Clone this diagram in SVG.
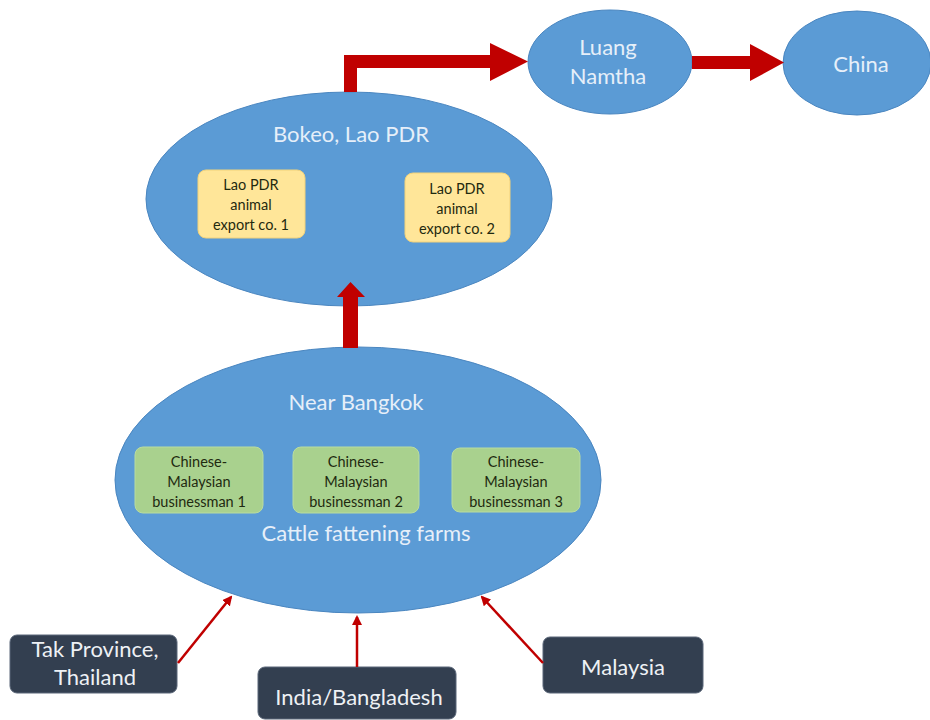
<svg xmlns="http://www.w3.org/2000/svg" width="930" height="720" viewBox="0 0 930 720">
<defs>
<style>
.ell{fill:#5b9bd5;stroke:#4a86c0;stroke-width:1}
.lt{font-family:Lato,"Open Sans","Liberation Sans",sans-serif;fill:#e6eff9;text-anchor:middle;font-size:22px}
.yb{fill:#ffe699;stroke:#f2d27a;stroke-width:1}
.gb{fill:#a9d18e;stroke:#b9dca0;stroke-width:1}
.sm{font-family:Lato,"Open Sans","Liberation Sans",sans-serif;font-size:14.5px;fill:#1f2a10;text-anchor:middle}
.db{fill:#333f50;stroke:#5a6678;stroke-width:1}
.dt{font-family:Lato,"Open Sans","Liberation Sans",sans-serif;font-size:22px;fill:#eef1f5;text-anchor:middle}
.thin{stroke:#c00000;stroke-width:2.5;fill:none}
.thick{fill:#c00000}
</style>
<marker id="ah" viewBox="0 0 10 10" refX="8" refY="5" markerWidth="4" markerHeight="4" orient="auto" markerUnits="strokeWidth">
<path d="M0,0 L10,5 L0,10 z" fill="#c00000"/>
</marker>
</defs>
<rect width="930" height="720" fill="#ffffff"/>

<g id="luang-namtha">
<ellipse class="ell" cx="610" cy="62" rx="82" ry="52"/>
<text class="lt" x="608" y="55">Luang</text>
<text class="lt" x="608" y="84">Namtha</text>
</g>
<g id="china">
<ellipse class="ell" cx="857" cy="63" rx="74" ry="52"/>
<text class="lt" x="861" y="72">China</text>
</g>
<g id="bokeo">
<ellipse class="ell" cx="349" cy="199" rx="203" ry="107"/>
<text class="lt" x="351" y="142">Bokeo, Lao PDR</text>
</g>
<g id="lao-co-1">
<rect class="yb" x="198" y="170" width="107" height="68" rx="8"/>
<text class="sm" x="251" y="190">Lao PDR</text>
<text class="sm" x="251" y="210">animal</text>
<text class="sm" x="251" y="230">export co. 1</text>
</g>
<g id="lao-co-2">
<rect class="yb" x="405" y="173" width="105" height="69" rx="8"/>
<text class="sm" x="457" y="194">Lao PDR</text>
<text class="sm" x="457" y="214">animal</text>
<text class="sm" x="457" y="234">export co. 2</text>
</g>
<g id="near-bangkok">
<ellipse class="ell" cx="358" cy="480" rx="243" ry="133"/>
<text class="lt" x="356" y="410">Near Bangkok</text>
<text class="lt" x="366" y="541">Cattle fattening farms</text>
</g>
<g id="businessman-1">
<rect class="gb" x="135" y="447" width="128" height="66" rx="8"/>
<text class="sm" x="199" y="467">Chinese-</text>
<text class="sm" x="199" y="487">Malaysian</text>
<text class="sm" x="199" y="507">businessman 1</text>
</g>
<g id="businessman-2">
<rect class="gb" x="293" y="447" width="126" height="66" rx="8"/>
<text class="sm" x="356" y="467">Chinese-</text>
<text class="sm" x="356" y="487">Malaysian</text>
<text class="sm" x="356" y="507">businessman 2</text>
</g>
<g id="businessman-3">
<rect class="gb" x="452" y="448" width="128" height="64" rx="8"/>
<text class="sm" x="516" y="467">Chinese-</text>
<text class="sm" x="516" y="487">Malaysian</text>
<text class="sm" x="516" y="507">businessman 3</text>
</g>
<g id="tak">
<rect class="db" x="10" y="635" width="167" height="58" rx="7"/>
<text class="dt" x="95" y="657">Tak Province,</text>
<text class="dt" x="95" y="685">Thailand</text>
</g>
<g id="india">
<rect class="db" x="258" y="667" width="198" height="52" rx="7"/>
<text class="dt" x="359" y="705">India/Bangladesh</text>
</g>
<g id="malaysia">
<rect class="db" x="543" y="637" width="160" height="56" rx="7"/>
<text class="dt" x="623" y="675">Malaysia</text>
</g>

<g id="connectors">
<path class="thick" d="M344,92 L344,55 L490,55 L490,43 L528,61.5 L490,81 L490,68 L357,68 L357,92 Z"/>
<path class="thick" d="M692,56 L750,56 L750,44 L784,62.5 L750,81 L750,69 L692,69 Z"/>
<path class="thick" d="M343,348 L343,297 L337,297 L350.5,282 L365,297 L358,297 L358,348 Z"/>
<line class="thin" x1="178" y1="663" x2="231" y2="597" marker-end="url(#ah)"/>
<line class="thin" x1="357" y1="667" x2="357" y2="617" marker-end="url(#ah)"/>
<line class="thin" x1="543" y1="663" x2="482" y2="597" marker-end="url(#ah)"/>
</g>
</svg>
